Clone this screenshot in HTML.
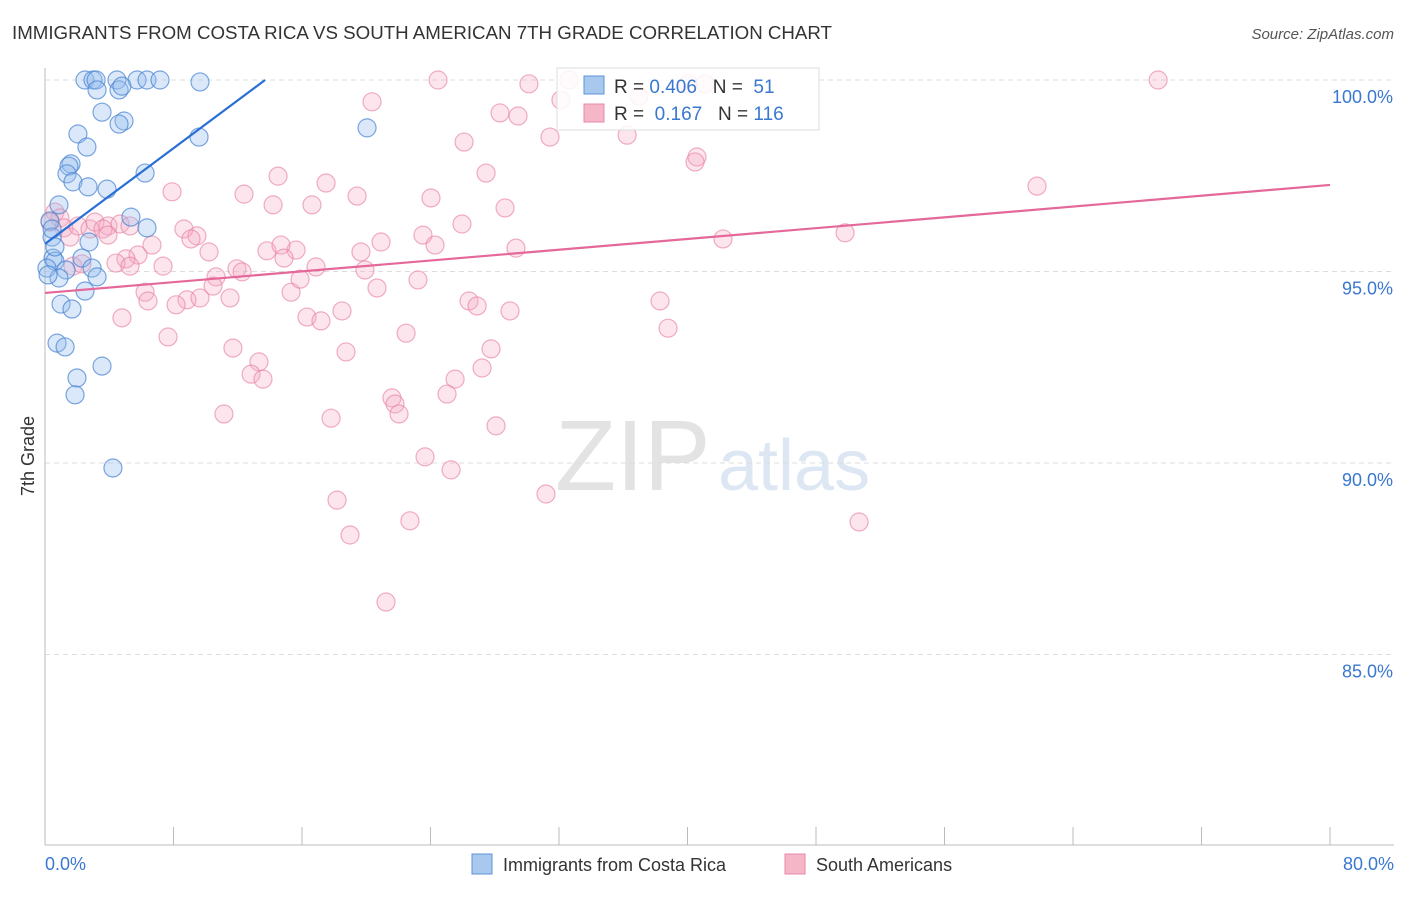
<!DOCTYPE html>
<html><head><meta charset="utf-8"><style>
body{margin:0;background:#fff;font-family:"Liberation Sans",sans-serif;}
svg text{font-family:"Liberation Sans",sans-serif;}
</style></head><body>
<svg id="chart" width="1406" height="892" viewBox="0 0 1406 892">
<text x="12" y="39" font-size="18" fill="#333" textLength="820" lengthAdjust="spacingAndGlyphs">IMMIGRANTS FROM COSTA RICA VS SOUTH AMERICAN 7TH GRADE CORRELATION CHART</text>
<text x="1394" y="39" font-size="15" fill="#555" text-anchor="end" font-style="italic">Source: ZipAtlas.com</text>
<text x="34" y="456" font-size="18" fill="#333" text-anchor="middle" transform="rotate(-90 34 456)">7th Grade</text>
<text x="555" y="490" font-size="100" fill="#e3e3e3" font-family="Liberation Serif">ZIP</text>
<text x="718" y="490" font-size="72" fill="#dde7f4">atlas</text>
<g id="grid"></g><g id="axes"></g><g id="pink"></g><g id="blue"></g><g id="lines"></g>
<g>
<rect x="557" y="68" width="262" height="62" fill="rgba(255,255,255,0.85)" stroke="#ddd"/>
<rect x="584" y="76" width="20" height="18" fill="#a9c8ee" stroke="#5b94d8"/>
<text x="614" y="93" font-size="19" fill="#333">R = <tspan fill="#3a78d0">0.406</tspan>&#160;&#160;&#160;N = &#160;<tspan fill="#3a78d0">51</tspan></text>
<rect x="584" y="104" width="20" height="18" fill="#f5b6c8" stroke="#e88aa8"/>
<text x="614" y="120" font-size="19" fill="#333">R = &#160;<tspan fill="#3a78d0">0.167</tspan>&#160;&#160;&#160;N = <tspan fill="#3a78d0">116</tspan></text>
</g>
<g>
<rect x="472" y="854" width="20" height="20" fill="#a9c8ee" stroke="#5b94d8"/>
<text x="503" y="871" font-size="18" fill="#333">Immigrants from Costa Rica</text>
<rect x="785" y="854" width="20" height="20" fill="#f5b6c8" stroke="#e88aa8"/>
<text x="816" y="871" font-size="18" fill="#333">South Americans</text>
</g>
</svg>
<script>
const yTicks=[100,95,90,85];
const xTickLabels=["0.0%","80.0%"];
const blueX=[2.49,2.99,3.18,4.48,5.73,6.35,7.16,9.65,3.24,4.61,4.79,3.55,4.92,4.61,2.05,2.61,9.59,20.05,1.62,1.49,1.37,1.74,2.68,3.86,6.23,0.87,5.35,6.35,0.31,0.44,2.74,0.50,2.30,0.62,2.93,0.12,1.31,3.24,0.87,2.49,1.00,1.68,0.75,1.25,1.99,3.55,1.87,4.23,0.44,0.19,0.62];
const blueY=[100,100,100,100,100,100,100,99.95,99.74,99.74,99.84,99.16,98.93,98.85,98.59,98.25,98.51,98.75,97.81,97.75,97.55,97.34,97.21,97.15,97.57,96.74,96.42,96.14,96.32,95.90,95.77,95.35,95.35,95.27,95.09,95.09,95.04,94.86,94.83,94.49,94.15,94.02,93.13,93.03,92.22,92.53,91.78,89.87,96.11,94.91,95.64];
const pinkX=[69.30,24.47,30.13,32.62,32.12,36.98,40.03,41.09,20.36,28.33,29.45,26.09,31.44,36.24,40.59,40.47,61.76,14.51,17.50,19.43,12.39,7.91,14.20,16.62,24.03,28.64,27.46,0.62,0.93,0.31,1.18,1.56,2.05,2.80,3.11,3.92,3.61,4.67,5.29,3.92,8.65,9.46,9.09,6.66,5.79,10.21,13.82,15.63,14.69,14.88,16.87,11.95,12.27,19.67,20.92,19.92,23.53,24.28,25.96,23.22,29.32,42.21,49.81,7.35,5.04,4.42,5.29,1.74,2.30,10.65,10.46,15.32,6.23,11.52,8.84,9.65,8.16,6.41,15.88,20.67,26.40,26.90,38.29,28.95,16.31,17.18,18.49,7.66,4.79,11.70,22.48,38.79,27.77,13.32,12.83,13.57,18.74,27.21,25.53,25.03,21.60,21.79,22.04,11.14,17.81,28.08,23.66,25.28,31.19,18.18,22.72,50.68,18.99,21.23];
const pinkY=[100,100,99.90,100,99.48,99.58,99.90,99.90,99.43,99.14,99.06,98.38,98.51,98.56,97.99,97.86,97.23,97.49,97.31,96.97,97.02,97.08,96.74,96.74,96.92,96.66,97.57,96.55,96.40,96.29,96.14,95.90,96.19,96.11,96.29,96.19,96.11,96.24,96.19,95.95,96.11,95.93,95.85,95.69,95.43,95.51,95.54,95.56,95.69,95.35,95.12,95.07,94.99,95.51,95.77,95.04,95.95,95.69,96.24,94.78,95.61,95.85,96.01,95.14,95.33,95.22,95.14,95.14,95.20,94.86,94.62,94.46,94.46,94.31,94.26,94.31,94.13,94.23,94.80,94.57,94.23,94.10,94.23,93.97,93.81,93.71,93.97,93.29,93.79,93.00,93.39,93.52,92.98,92.64,92.32,92.19,92.90,92.48,92.19,91.80,91.70,91.54,91.28,91.28,91.17,90.97,90.16,89.82,89.19,89.03,88.49,88.46,88.12,86.37];
const blueTrend=[[0,95.72],[13.70,100]];
const pinkTrend=[[0,94.44],[80,97.26]];
const NS="http://www.w3.org/2000/svg";
const xs=v=>45+v/80*1285;
const ys=v=>80+(100-v)*38.3;
function mk(tag,attrs,parent){const e=document.createElementNS(NS,tag);for(const k in attrs)e.setAttribute(k,attrs[k]);document.getElementById(parent).appendChild(e);return e;}
yTicks.forEach(t=>{
 const g=mk('line',{x1:45,x2:1394,y1:ys(t),y2:ys(t),stroke:'#ddd','stroke-dasharray':'5,4'},'grid');
 
 
 const l=mk('text',{x:1393,y:ys(t)+23,'font-size':18,fill:'#3a78d0','text-anchor':'end'},'grid');
 l.textContent=t.toFixed(1)+'%';
 
 
});
const ax=mk('line',{x1:45,x2:45,y1:68,y2:845,stroke:'#bbb'},'axes');


const bx=mk('line',{x1:45,x2:1394,y1:845,y2:845,stroke:'#bbb'},'axes');


for(let i=0;i<=10;i++){
 const t=mk('line',{x1:xs(i*8),x2:xs(i*8),y1:827,y2:845,stroke:'#bbb'},'axes');
 
 
}
[[0,'start',45],[1,'end',1394]].forEach(([i,a,x])=>{
 const l=mk('text',{x:x,y:870,'font-size':18,fill:'#3a78d0','text-anchor':a},'axes');
 l.textContent=xTickLabels[i];
 
 
});
pinkX.forEach((v,i)=>{
 const c=mk('circle',{cx:xs(v),cy:ys(pinkY[i]),r:9,fill:'rgba(245,170,195,0.3)',stroke:'rgba(232,130,165,0.65)','stroke-width':1.2},'pink');
 
 
});
blueX.forEach((v,i)=>{
 const c=mk('circle',{cx:xs(v),cy:ys(blueY[i]),r:9,fill:'rgba(150,190,238,0.35)',stroke:'rgba(70,130,210,0.7)','stroke-width':1.2},'blue');
 
 
});
const bl=mk('line',{x1:xs(blueTrend[0][0]),y1:ys(blueTrend[0][1]),x2:xs(blueTrend[1][0]),y2:ys(blueTrend[1][1]),stroke:'#2a6fd6','stroke-width':2.2},'lines');


const pl=mk('line',{x1:xs(pinkTrend[0][0]),y1:ys(pinkTrend[0][1]),x2:xs(pinkTrend[1][0]),y2:ys(pinkTrend[1][1]),stroke:'#e5689a','stroke-width':2.2},'lines');


</script>
</body></html>
